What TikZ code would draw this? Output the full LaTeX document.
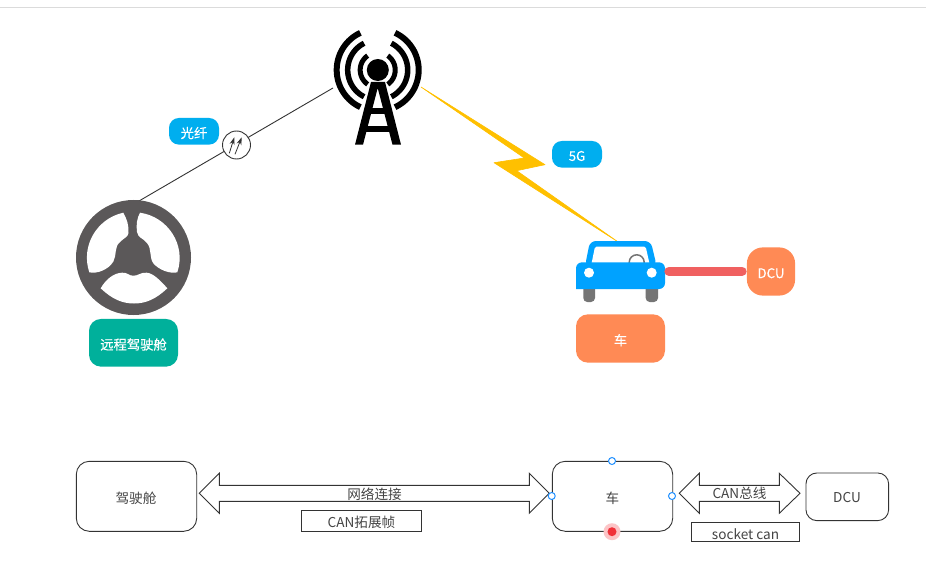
\documentclass[tikz,border=0pt]{standalone}
\usepackage{fontspec}
\usetikzlibrary{arrows.meta}
\setmainfont{Noto Sans CJK SC}
\newfontfamily\heavycjk{Noto Sans CJK SC}[FakeBold=0.25]
\newcommand{\lowered}[1]{\raisebox{-1.7pt}[\height][\depth]{#1}}
\begin{document}
\begin{tikzpicture}[x=1pt,y=-1pt,
  lbl/.style={font=\heavycjk\fontsize{13.3}{15}\selectfont,text=white,inner sep=0pt},
  pill/.style={lbl,fill=skyc,rounded corners=10pt,minimum width=50pt,minimum height=26.7pt},
  orangebox/.style={lbl,fill=orangec,minimum width=89pt,minimum height=48.4pt,rounded corners=12pt},
  diag/.style={draw=linec,line width=0.9pt,font=\fontsize{13}{15}\selectfont,text=textc,inner sep=0pt},
  roundbox/.style={diag,minimum width=120.4pt,minimum height=70pt,rounded corners=13pt},
  tagbox/.style={diag,font=\fontsize{13.6}{15}\selectfont},
  bigarrow/.style={draw=linec,line width=0.9pt,fill=white,line join=miter},
  arrowtext/.style={font=\fontsize{13.6}{15}\selectfont,text=textc,inner sep=0pt},
  handle/.style={circle,draw=handlec,fill=white,line width=1pt,minimum size=7pt,inner sep=0pt},
  radio/.style={line width=#1,draw=black},
  tower/.style={fill=black},
  wheelhole/.style={fill=white},
  tyre/.style={fill=tyrec,rounded corners=4pt},
  fibrearrow/.style={-{Stealth[length=7.5pt,width=5pt]},draw=linec,line width=0.8pt},
]
\definecolor{skyc}{HTML}{00AEEF}
\definecolor{orangec}{HTML}{FF8A55}
\definecolor{tealc}{HTML}{00B09B}
\definecolor{linec}{HTML}{333333}
\definecolor{textc}{HTML}{444444}
\definecolor{handlec}{HTML}{1E8FFF}
\definecolor{boltc}{HTML}{FFC000}
\definecolor{wheelc}{HTML}{5B5859}
\definecolor{carc}{HTML}{00A2FF}
\definecolor{tyrec}{HTML}{757575}
\definecolor{barc}{HTML}{F06060}
\definecolor{dotc}{HTML}{F03038}
\definecolor{haloc}{HTML}{FCC4C6}
\useasboundingbox (0,0) rectangle (926,564);
\fill[white] (0,0) rectangle (926,564);
\draw[draw=black!14,line width=1pt] (0,7.5) -- (926,7.5);

% anchors of the connectors
\coordinate (wheeltop) at (139,201);
\coordinate (towerleft) at (333,88);
\coordinate (towerright) at (421,87);
\coordinate (cartop) at (617.7,241.7);
\coordinate (carright) at (669,271.3);
\coordinate (dculeft) at (742,271.3);

% fibre link
\draw[draw=linec,line width=0.9pt] (wheeltop) -- (towerleft);
\node[circle,draw=linec,fill=white,line width=0.9pt,minimum size=28pt,inner sep=0pt] (fibre) at (236.5,145) {};
\draw[fibrearrow] (229.3,153.3) -- (234.3,137.3);
\draw[fibrearrow] (235,154.3) -- (241.7,137.3);
\node[pill] (fibrelabel) at (194,131.3) {\lowered{光纤}};

% tower
\foreach \r/\w/\a in {41/6/115,30/5.5/117,17.5/5/125}{
  \draw[radio=\w pt] plot[domain=\a:360-\a,samples=40] ({377.7+\r*cos(\x)},{70+\r*sin(\x)});
  \draw[radio=\w pt] plot[domain=-180+\a:180-\a,samples=40] ({377.7+\r*cos(\x)},{70+\r*sin(\x)});
}
\fill[tower] (371,82) -- (355,144.7) -- (363,144.7) -- (377.7,88) -- (392.5,144.7) -- (401,144.7) -- (385,82) -- cycle;
\fill[tower] (367,108) rectangle (389,114);
\fill[tower] (363,126) rectangle (393,132);
\fill[tower] (377.8,70) circle[radius=11];

% lightning
\filldraw[fill=boltc,draw=boltc,line width=0.6pt,line join=round] (towerright) -- (545,164.7) -- (516.7,170.7) -- (cartop) -- (494,162.7) -- (524.3,158) -- cycle;
\node[pill] (fivegee) at (577,154.3) {\lowered{5G}};

% steering wheel
\fill[wheelc] (133.5,257.5) circle[radius=57.5];
\fill[wheelhole] (123.3,212.7) .. controls (96.7,218.6) and (80.5,246) .. (89.3,272.3)
  .. controls (97,274) and (108,270) .. (113.3,261.7)
  .. controls (117,255) and (114,247) .. (120,242)
  .. controls (124,238) and (128,237) .. (128.5,233)
  .. controls (129,226) and (127,219) .. (123.3,212.7) -- cycle;
\fill[wheelhole] (140,212.7) .. controls (167.9,216.7) and (186.5,245.1) .. (177.3,272.3)
  .. controls (170,274) and (159,270) .. (153.3,263.3)
  .. controls (149,257) and (152,249) .. (147,243)
  .. controls (143,238) and (138,238) .. (137,232)
  .. controls (136,225) and (137,218) .. (140,212.7) -- cycle;
\fill[wheelhole] (100.7,288.3) .. controls (112,299) and (122,303.5) .. (134,303.5)
  .. controls (146,303.5) and (156,299) .. (167.3,288.3)
  .. controls (161,281) and (153,273) .. (146.7,272.7)
  .. controls (141,272) and (138,276) .. (133.3,275.7)
  .. controls (129,276) and (127,272) .. (122,272.7)
  .. controls (114,273) and (106,279) .. (100.7,288.3) -- cycle;
\node[lbl,fill=tealc,minimum width=89pt,minimum height=47.7pt,rounded corners=12pt] (cabin) at (133.5,342.8) {\lowered{远程驾驶舱}};

% car
\fill[tyre] (583.3,284) -- (595,284) -- (595,302) -- (583.3,302) -- cycle;
\fill[tyre] (645.7,284) -- (658,284) -- (658,302) -- (645.7,302) -- cycle;
\fill[carc,rounded corners=6pt] (585,266) -- (590,241) -- (650.7,241) -- (656.7,266) -- cycle;
\fill[white,rounded corners=1.5pt] (591,266) -- (595,246.7) -- (645.7,246.7) -- (650,266) -- cycle;
\draw[draw=tyrec,line width=1.5pt] (636.7,262.3) circle[radius=7.5];
\fill[carc,rounded corners=6pt] (576,289) -- (576,262.3) -- (665,262.3) -- (665,289) [sharp corners] -- cycle;
\fill[white] (589,272.7) circle[radius=5];
\fill[white] (651.7,272.7) circle[radius=5];

% car to DCU bar, car and DCU labels
\draw[draw=barc,line width=9.3pt,line cap=round] (carright) -- (dculeft);
\node[lbl,fill=orangec,minimum size=48.2pt,rounded corners=16pt] (dcutop) at (771,271.5) {\lowered{DCU}};
\node[orangebox] (cartag) at (620.5,338.5) {\lowered{车}};

% lower row
\node[roundbox] (cockpit) at (136.5,496.3) {};
\node[arrowtext] at (136,498) {驾驶舱};
\node[roundbox] (carbox) at (612.5,496.3) {};
\node[arrowtext] at (612.5,498) {车};
\node[diag,minimum width=82.7pt,minimum height=47.7pt,rounded corners=11pt] (dcubox) at (847.3,496.8) {};
\node[arrowtext] at (847,498) {DCU};

\draw[bigarrow] (199.3,493.3) -- (219.3,473.3) -- (219.3,485.3) -- (529.3,485.3) -- (529.3,473.3) -- (549.3,493.3) -- (529.3,513.3) -- (529.3,501.3) -- (219.3,501.3) -- (219.3,513.3) -- cycle;
\node[arrowtext] (netlabel) at (374.5,494) {网络连接};
\draw[bigarrow] (679.3,493.3) -- (699.3,473.3) -- (699.3,485.3) -- (779.3,485.3) -- (779.3,473.3) -- (800,493.3) -- (779.3,513.3) -- (779.3,501.3) -- (699.3,501.3) -- (699.3,513.3) -- cycle;
\node[arrowtext] (canlabel) at (739.5,493.5) {CAN总线};

\node[tagbox,minimum width=120.4pt,minimum height=21pt] (cantag) at (361.5,520.8) {\lowered{CAN拓展帧}};
\node[tagbox,minimum width=108.4pt,minimum height=19.4pt] (sockettag) at (745.5,532) {\lowered{socket can}};

% selection handles
\node[handle] (handletop) at (612,461) {};
\node[handle] (handleleft) at (551.7,496) {};
\node[handle] (handleright) at (672,496) {};
\fill[haloc] (612,531.7) circle[radius=8.5];
\node[circle,fill=dotc,minimum size=9pt,inner sep=0pt] (handlebottom) at (612,531.7) {};
\end{tikzpicture}
\end{document}
